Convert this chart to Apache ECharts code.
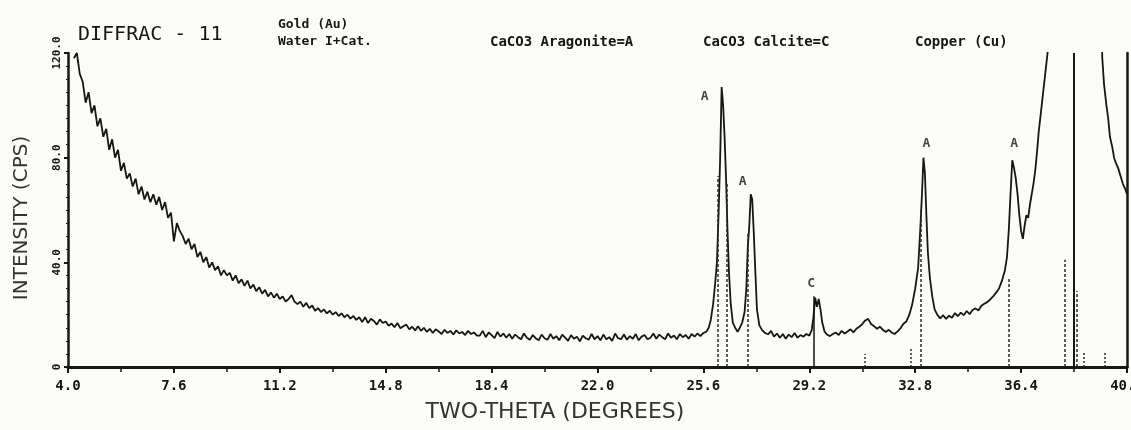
<!DOCTYPE html>
<html>
<head>
<meta charset="utf-8">
<script src="https://cdn.jsdelivr.net/npm/echarts@6/dist/echarts.min.js"></script>
<style>
  html, body { margin: 0; padding: 0; background: #fbfbf7; }
  #chart { width: 1131px; height: 430px; }
</style>
</head>
<body>
<div id="chart"></div>
<script>
  // scan: two-theta in degrees / intensity in cps
  const scanDeg = [
    4.2, 4.3, 4.4, 4.5, 4.6, 4.7, 4.8, 4.9,
    5.0, 5.1, 5.2, 5.3, 5.4, 5.5, 5.6, 5.7, 5.8, 5.9,
    6.0, 6.1, 6.2, 6.3, 6.4, 6.5, 6.6, 6.7, 6.8, 6.9,
    7.0, 7.1, 7.2, 7.3, 7.4, 7.5, 7.6, 7.7, 7.8, 7.9,
    8.0, 8.1, 8.2, 8.3, 8.4, 8.5, 8.6, 8.7, 8.8, 8.9,
    9.0, 9.1, 9.2, 9.3, 9.4, 9.5, 9.6, 9.7, 9.8, 9.9,
    10.0, 10.1, 10.2, 10.3, 10.4, 10.5, 10.6, 10.7, 10.8, 10.9,
    11.0, 11.1, 11.2, 11.3, 11.4, 11.5, 11.6, 11.7, 11.8, 11.9,
    12.0, 12.1, 12.2, 12.3, 12.4, 12.5, 12.6, 12.7, 12.8, 12.9,
    13.0, 13.1, 13.2, 13.3, 13.4, 13.5, 13.6, 13.7, 13.8, 13.9,
    14.0, 14.1, 14.2, 14.3, 14.4, 14.5, 14.6, 14.7, 14.8, 14.9,
    15.0, 15.1, 15.2, 15.3, 15.4, 15.5, 15.6, 15.7, 15.8, 15.9,
    16.0, 16.1, 16.2, 16.3, 16.4, 16.5, 16.6, 16.7, 16.8, 16.9,
    17.0, 17.1, 17.2, 17.3, 17.4, 17.5, 17.6, 17.7, 17.8, 17.9,
    18.0, 18.1, 18.2, 18.3, 18.4, 18.5, 18.6, 18.7, 18.8, 18.9,
    19.0, 19.1, 19.2, 19.3, 19.4, 19.5, 19.6, 19.7, 19.8, 19.9,
    20.0, 20.1, 20.2, 20.3, 20.4, 20.5, 20.6, 20.7, 20.8, 20.9,
    21.0, 21.1, 21.2, 21.3, 21.4, 21.5, 21.6, 21.7, 21.8, 21.9,
    22.0, 22.1, 22.2, 22.3, 22.4, 22.5, 22.6, 22.7, 22.8, 22.9,
    23.0, 23.1, 23.2, 23.3, 23.4, 23.5, 23.6, 23.7, 23.8, 23.9,
    24.0, 24.1, 24.2, 24.3, 24.4, 24.5, 24.6, 24.7, 24.8, 24.9,
    25.0, 25.1, 25.2, 25.3, 25.4, 25.5, 25.6,
    25.7, 25.78, 25.85, 25.93, 26.0, 26.06, 26.12, 26.17, 26.22, 26.27,
    26.32, 26.37, 26.42, 26.47, 26.53, 26.6, 26.68, 26.76, 26.84, 26.92,
    27.0, 27.06, 27.11, 27.16, 27.21, 27.26, 27.31, 27.36, 27.42, 27.5,
    27.6, 27.7, 27.8, 27.9, 28.0, 28.1, 28.2, 28.3, 28.4, 28.5,
    28.6, 28.7, 28.8, 28.9, 29.0, 29.1, 29.2, 29.28, 29.34, 29.4,
    29.46, 29.52, 29.58, 29.64, 29.72, 29.8, 29.9, 30.0, 30.1, 30.2,
    30.3, 30.4, 30.5, 30.6, 30.7, 30.8, 30.9, 31.0, 31.1, 31.2,
    31.3, 31.4, 31.5, 31.6, 31.7, 31.8, 31.9, 32.0, 32.1, 32.2,
    32.3, 32.4, 32.5, 32.6, 32.7, 32.8, 32.9, 32.97, 33.03, 33.08,
    33.13, 33.18, 33.23, 33.3, 33.38, 33.46, 33.55, 33.65, 33.75, 33.85,
    33.95, 34.05, 34.15, 34.25, 34.35, 34.45, 34.55, 34.65, 34.75, 34.85,
    34.95, 35.05, 35.15, 35.25, 35.35, 35.45, 35.55, 35.65, 35.75, 35.85,
    35.92, 35.98, 36.04, 36.1, 36.16, 36.22, 36.28, 36.34, 36.4, 36.46,
    36.52, 36.58, 36.64, 36.7, 36.76, 36.82, 36.88, 36.94, 37.0, 37.06,
    37.12, 37.18, 37.24, 37.3, 37.36, 37.5, 38.0, 38.6, 39.1, 39.16,
    39.22, 39.3, 39.36, 39.42, 39.5, 39.56, 39.62, 39.7, 39.78, 39.86,
    39.94, 40.0
  ]
  const scanCps = [
    118, 120, 112, 109, 101, 105, 97, 100,
    92, 95, 88, 91, 83, 87, 80, 83, 75, 78,
    72, 74, 69, 72, 66, 69, 64, 67, 63, 66,
    62, 65, 60, 63, 57, 59, 48, 55, 52, 50,
    47, 49, 45, 47, 42, 44, 40, 42, 38, 40,
    37, 38.5, 35, 37, 35, 36, 33, 35, 32, 33.5,
    31, 33, 30, 31.5, 29, 30.5, 28, 29.5, 27, 28.5,
    26.5, 28, 26, 27, 25, 26, 27.5, 25, 24, 25,
    23, 24.5, 22.5, 23.5, 21.5, 22.5, 21, 22, 20.5, 21.5,
    20, 21, 19.5, 20.5, 19, 20, 18.5, 19.5, 18, 19,
    17.2, 19.0, 16.8, 18.4, 17.6, 16.2, 18.2, 16.8, 17.4, 15.8,
    16.6, 15.2, 16.8, 14.8, 15.6, 16.2, 14.4, 15.4, 14.0, 15.6,
    13.8, 15.0, 13.4, 14.6, 13.0, 14.4, 13.6, 12.6, 14.2, 13.0,
    13.8, 12.4, 14.0, 12.8, 13.4, 12.2, 13.8, 12.6, 13.2, 12.0,
    12.0, 13.8, 11.4, 13.2, 12.2, 11.0, 13.4, 11.6, 12.8, 11.2,
    12.6, 10.8, 12.4, 11.4, 10.6, 12.8, 11.2, 10.4, 12.2, 11.0,
    10.2, 12.4, 11.0, 10.4, 12.6, 10.8, 11.8, 10.2, 12.4, 11.2,
    10.0, 12.2, 10.8, 11.6, 9.8, 12.0, 11.0, 10.4, 12.6, 10.6,
    11.8, 10.2, 12.4, 10.6, 11.4, 10.0, 12.8, 11.0, 10.6, 12.4,
    10.4, 11.8, 10.8, 12.6, 10.2, 11.6, 12.2, 10.6, 11.2, 12.8,
    10.8, 12.4, 11.4, 10.6, 12.8, 11.2, 12.0, 10.6, 12.6, 11.4,
    12.2, 10.8, 12.6, 11.6, 12.8, 11.8, 13.0,
    13.5, 15, 18, 24, 32, 40, 60, 80, 107, 100,
    88, 72, 52, 36, 24, 17, 15, 13.5, 15, 17,
    21, 30, 46, 54, 66, 64, 52, 38, 22, 16,
    14, 13, 12.5, 13.8, 11.6, 12.8, 11.2, 12.6, 10.8, 12.4,
    11.4, 13, 11.2, 12.2, 11.6, 12.6, 12, 14, 19, 26.5,
    23, 26, 22, 17, 13.5, 12.4, 11.8, 12.6, 13.2, 12.2,
    13.8, 12.8, 13.6, 14.4, 13.2, 14.6, 15.4, 16.4, 17.8, 18.4,
    16.4, 15.6, 14.6, 15.4, 14.2, 13.4, 14.2, 13.2, 12.6, 13.6,
    14.8, 16.5, 17.4, 20, 24, 30, 38, 52, 66, 80,
    74, 58, 44, 34, 27, 22, 20, 18.6, 19.8, 18.4,
    19.6, 18.8, 20.6, 19.4, 20.8, 19.8, 21.4, 20.2, 21.8, 22.4,
    21.6, 23.4, 24.2, 24.8, 25.8, 27, 28.4, 30, 33, 37,
    42, 52, 66, 79, 76, 72, 66, 58, 52, 49,
    54, 58, 57, 62, 66, 70, 75, 82, 90, 96,
    102, 108, 114, 120, 132, 160, 200, 200, 150, 118,
    108, 100, 95, 88, 84, 80, 78, 76, 73, 70,
    68, 66
  ]

  // reference pattern sticks
  const aragoniteDeg = [26.08, 26.4, 27.1, 33.0, 35.98, 37.88, 38.3]
  const aragoniteCps = [73, 70, 51, 60, 34, 41, 29]
  const calciteDeg = [29.36]
  const calciteCps = [27]
  const goldDeg = [38.18]
  const goldCps = [120]
  const minorDeg = [31.1, 32.65, 38.54, 39.25]
  const minorCps = [5, 7, 6, 6]

  // peak letters
  const peakDeg = [26.22, 27.21, 29.4, 33.08, 36.1]
  const peakCps = [107, 66, 26.5, 80, 79]
  const peakText = ['A', 'A', 'C', 'A', 'A']

  const yTickText = { 0: '0', 40: '40.0', 80: '80.0', 120: '120.0' }

  const ink = '#161616'
  const mono = 'DejaVu Sans Mono'

  let chart = echarts.init(document.getElementById('chart'))

  function sticks(degs, cps) {
    return degs.map((d, i) => [{ coord: [d, 0] }, { coord: [d, cps[i]] }])
  }

  // label placement around each peak top
  const peakLabelPos = ['left', 'top', 'top', 'top', 'top']
  const peakLabelOffset = [[-5, 10], [-8, 2], [-4, 0], [3, 0], [2, -2]]

  chart.setOption({
    animation: false,
    backgroundColor: '#fbfbf7',
    // keep the plot box fixed, let the last tick label run off the edge
    grid: { left: 68, right: 4, top: 53, bottom: 63, outerBoundsMode: 'none', containLabel: false },
    xAxis: [
      {
        type: 'value', min: 4, max: 40, interval: 3.6, position: 'bottom',
        axisLine: { lineStyle: { color: ink, width: 2.5 } },
        axisTick: { length: 6, lineStyle: { color: ink, width: 2 } },
        axisLabel: {
          color: ink, fontFamily: mono, fontWeight: 'bold', fontSize: 14, margin: 12,
          formatter: v => v.toFixed(1)
        },
        splitLine: { show: false }
      },
      {
        type: 'value', min: 4, max: 40, interval: 1.8, position: 'top',
        axisLine: { lineStyle: { color: ink, width: 3 } },
        axisTick: { inside: true, length: 5, lineStyle: { color: ink, width: 1.5 } },
        axisLabel: { show: false },
        splitLine: { show: false }
      }
    ],
    yAxis: [
      {
        type: 'value', min: 0, max: 120, interval: 40, position: 'left',
        axisLine: { show: true, lineStyle: { color: ink, width: 2.5 } },
        axisTick: { show: true, length: 4, lineStyle: { color: ink, width: 2 } },
        minorTick: { show: true, splitNumber: 8, length: 2, lineStyle: { color: ink } },
        axisLabel: {
          rotate: 90, color: ink, fontFamily: mono, fontWeight: 'bold', fontSize: 11, margin: 5,
          formatter: v => yTickText[v]
        },
        splitLine: { show: false }
      },
      {
        type: 'value', min: 0, max: 120, position: 'right',
        axisLine: { show: true, lineStyle: { color: ink, width: 2.5 } },
        axisTick: { show: false },
        axisLabel: { show: false },
        splitLine: { show: false }
      }
    ],
    series: [
      {
        name: 'scan',
        type: 'line',
        data: scanDeg.map((d, i) => [d, scanCps[i]]),
        showSymbol: false,
        clip: true,
        lineStyle: { color: ink, width: 1.8 },
        z: 3
      },
      {
        name: 'Aragonite',
        type: 'line', data: [],
        markLine: {
          silent: true, symbol: ['none', 'none'], label: { show: false },
          lineStyle: { color: '#2a2a2a', width: 1.5, type: [3, 2] },
          data: sticks(aragoniteDeg, aragoniteCps)
        }
      },
      {
        name: 'Calcite',
        type: 'line', data: [],
        markLine: {
          silent: true, symbol: ['none', 'none'], label: { show: false },
          lineStyle: { color: ink, width: 1.5, type: 'solid' },
          data: sticks(calciteDeg, calciteCps)
        }
      },
      {
        name: 'Gold',
        type: 'line', data: [],
        markLine: {
          silent: true, symbol: ['none', 'none'], label: { show: false },
          lineStyle: { color: ink, width: 2, type: 'solid' },
          data: sticks(goldDeg, goldCps)
        }
      },
      {
        name: 'Other',
        type: 'line', data: [],
        markLine: {
          silent: true, symbol: ['none', 'none'], label: { show: false },
          lineStyle: { color: '#2a2a2a', width: 1.5, type: [2, 2] },
          data: sticks(minorDeg, minorCps)
        }
      },
      {
        name: 'peaks',
        type: 'scatter',
        symbolSize: 0,
        data: peakDeg.map((d, i) => ({
          value: [d, peakCps[i]],
          label: {
            show: true, formatter: peakText[i],
            position: peakLabelPos[i], offset: peakLabelOffset[i], distance: 8,
            color: ink, fontFamily: mono, fontWeight: 'bold', fontSize: 13
          }
        })),
        z: 4
      }
    ],
    graphic: [
      {
        type: 'text', left: 78, top: 25,
        style: { text: 'DIFFRAC - 11', fill: ink, font: '20px "DejaVu Sans Mono"' }
      },
      {
        type: 'text', left: 278, top: 16,
        style: { text: 'Gold (Au)\nWater I+Cat.', fill: ink, font: 'bold 13px "DejaVu Sans Mono"', lineHeight: 17 }
      },
      {
        type: 'text', left: 490, top: 35,
        style: { text: 'CaCO3 Aragonite=A', fill: ink, font: 'bold 14px "DejaVu Sans Mono"' }
      },
      {
        type: 'text', left: 703, top: 35,
        style: { text: 'CaCO3 Calcite=C', fill: ink, font: 'bold 14px "DejaVu Sans Mono"' }
      },
      {
        type: 'text', left: 915, top: 35,
        style: { text: 'Copper (Cu)', fill: ink, font: 'bold 14px "DejaVu Sans Mono"' }
      },
      {
        type: 'text', x: 555, y: 412,
        style: {
          text: 'TWO-THETA (DEGREES)', fill: '#333', font: '22px "DejaVu Sans"',
          align: 'center', verticalAlign: 'middle'
        }
      },
      {
        type: 'text', x: 22, y: 218, rotation: Math.PI / 2,
        style: {
          text: 'INTENSITY (CPS)', fill: '#333', font: '20px "DejaVu Sans"',
          align: 'center', verticalAlign: 'middle'
        }
      }
    ]
  })
</script>
</body>
</html>
